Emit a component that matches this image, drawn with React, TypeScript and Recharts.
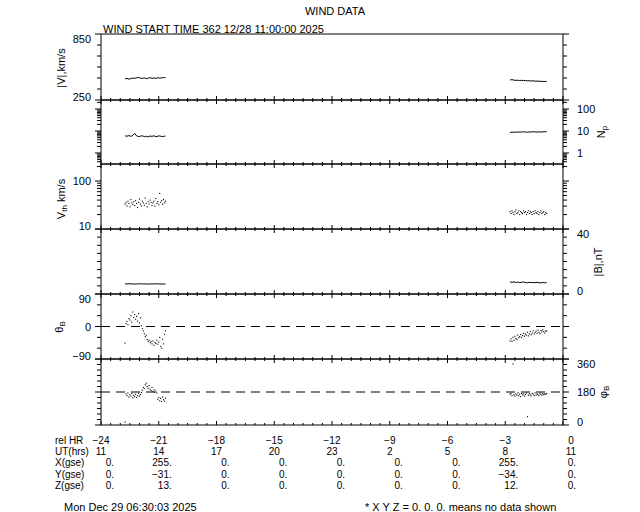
import React from "react"
import { ComposedChart, Line, XAxis, YAxis, ReferenceLine } from "recharts"

// sample times (hours relative to end of plot)
const leftHours = [-22.75, -22.65, -22.55, -22.45, -22.35, -22.25, -22.15, -22.05, -21.95, -21.85, -21.75, -21.65, -21.55, -21.45, -21.35, -21.25, -21.15, -21.05, -20.95, -20.85, -20.75, -20.65]
const rightHours = [-2.75, -2.65, -2.55, -2.45, -2.35, -2.25, -2.15, -2.05, -1.95, -1.85, -1.75, -1.65, -1.55, -1.45, -1.35, -1.25, -1.15, -1.05, -0.95, -0.85]
const leftFine = [-22.75, -22.7, -22.65, -22.6, -22.55, -22.5, -22.45, -22.4, -22.35, -22.3, -22.25, -22.2, -22.15, -22.1, -22.05, -22.0, -21.95, -21.9, -21.85, -21.8, -21.75, -21.7, -21.65, -21.6, -21.55, -21.5, -21.45, -21.4, -21.35, -21.3, -21.25, -21.2, -21.15, -21.1, -21.05, -21.0, -20.95, -20.9, -20.85, -20.8, -20.75, -20.7, -20.65]
const rightFine = [-2.75, -2.7, -2.65, -2.6, -2.55, -2.5, -2.45, -2.4, -2.35, -2.3, -2.25, -2.2, -2.15, -2.1, -2.05, -2.0, -1.95, -1.9, -1.85, -1.8, -1.75, -1.7, -1.65, -1.6, -1.55, -1.5, -1.45, -1.4, -1.35, -1.3, -1.25, -1.2, -1.15, -1.1, -1.05, -1.0, -0.95, -0.9, -0.85]

// |V| km/s
const speedLeft = [442, 446, 440, 444, 450, 447, 452, 455, 449, 446, 451, 444, 448, 453, 447, 450, 446, 452, 449, 451, 455, 452]
const speedRight = [432, 435, 431, 428, 430, 427, 429, 426, 428, 424, 425, 423, 425, 421, 422, 420, 421, 418, 419, 417]
// Np
const densityLeft = [6.0, 5.8, 6.2, 5.7, 6.3, 7.8, 6.0, 5.6, 5.8, 6.1, 5.5, 5.8, 5.4, 5.9, 5.7, 6.1, 5.5, 5.8, 6.0, 5.6, 5.7, 5.9]
const densityRight = [8.6, 8.9, 8.7, 9.0, 8.8, 9.1, 8.9, 9.2, 9.0, 8.8, 9.1, 9.0, 9.3, 9.1, 8.9, 9.2, 9.0, 9.1, 9.3, 9.2]
// Vth km/s
const vthLeft = [33, 36, 30, 38, 34, 29, 41, 35, 32, 37, 31, 39, 34, 28, 36, 42, 33, 30, 38, 35, 31, 44, 34, 29, 37, 33, 40, 36, 31, 35, 38, 30, 43, 34, 37, 32, 55, 36, 39, 33, 41, 35, 38]
const vthRight = [23, 21, 24, 22, 20, 23, 25, 21, 22, 24, 20, 23, 22, 21, 24, 22, 23, 20, 22, 24, 21, 23, 22, 20, 23, 21, 24, 22, 21, 23, 20, 22, 24, 21, 22, 23, 20, 22, 21]
// |B| nT
const bLeft = [6.2, 6.2, 6.3, 6.2, 6.2, 6.1, 6.2, 6.2, 6.3, 6.2, 6.2, 6.2, 6.1, 6.2, 6.2, 6.2, 6.3, 6.2, 6.2, 6.2, 6.1, 6.2]
const bRight = [7.4, 7.2, 7.5, 7.1, 7.3, 7.0, 7.2, 7.4, 7.1, 6.9, 7.2, 7.0, 7.1, 6.9, 7.2, 7.0, 6.8, 7.1, 6.9, 7.0]
// theta B
const thetaLeft = [-46, 8, 14, 5, 22, 18, 30, 12, 40, 25, 33, 20, 28, 15, 36, 10, 24, 2, -6, -12, -20, -28, -24, -36, -41, -38, -45, -42, -48, -40, -52, -44, -47, -38, -49, -43, -30, -55, -60, -35, -48, -22, -12]
const thetaRight = [-40, -34, -41, -30, -38, -27, -33, -36, -24, -31, -28, -22, -30, -25, -19, -27, -21, -24, -16, -26, -20, -14, -23, -18, -12, -21, -17, -13, -19, -10, -16, -20, -11, -15, -9, -14, -18, -12, -13]
// phi B
const phiLeft = [16, 170, 160, 175, 152, 165, 158, 172, 148, 162, 155, 168, 150, 160, 173, 158, 166, 178, 190, 205, 198, 220, 228, 210, 200, 215, 195, 188, 205, 182, 192, 178, 186, 175, 140, 150, 132, 145, 128, 152, 138, 130, 146]
const phiRight = [168, 172, 160, 333, 165, 158, 170, 163, 175, 160, 168, 155, 172, 164, 170, 158, 166, 174, 45, 162, 170, 165, 158, 172, 168, 160, 175, 163, 170, 166, 160, 173, 168, 162, 171, 165, 170, 167, 172]

// bottom table
const relHr = [-24, -21, -18, -15, -12, -9, -6, -3, 0]
const utHours = ["11", "14", "17", "20", "23", "2", "5", "8", "11"]
const xGse = ["0.", "255.", "0.", "0.", "0.", "0.", "0.", "255.", "0."]
const yGse = ["0.", "−31.", "0.", "0.", "0.", "0.", "0.", "−34.", "0."]
const zGse = ["0.", "13.", "0.", "0.", "0.", "0.", "0.", "12.", "0."]

const FONT = "'Liberation Sans', Arial, sans-serif"
const PAD = 6
const PLOT_L = 101
const PLOT_R = 563
const HOUR_PX = (PLOT_R - PLOT_L) / 24
const halfHourTicks = Array.from({ length: 49 }, (_, i) => -24 + i * 0.5)
const logTicks = (lo: number, hi: number) => {
  const out: number[] = []
  for (let d = 0.1; d <= 1000; d *= 10) for (let m = 1; m < 10; m++) {
    const v = +(m * d).toPrecision(3)
    if (v >= lo && v <= hi) out.push(v)
  }
  return out
}
const step = (lo: number, hi: number, s: number) => Array.from({ length: Math.round((hi - lo) / s) + 1 }, (_, i) => lo + i * s)

function rows(lh: number[], lv: number[], rh: number[], rv: number[]) {
  return [...lh.map((t, i) => ({ t, v: lv[i] })), { t: -12, v: null }, ...rh.map((t, i) => ({ t, v: rv[i] }))]
}

const fmt = (v: number) => (v < 0 ? "−" + Math.abs(v) : String(v))
const near = (a: number, list: number[]) => list.some((l) => Math.abs(l - a) < 1e-6)

function yTick(labels: number[], anchor: "start" | "end", h: number) {
  return (props: any) => {
    const { x, y, payload } = props
    const v = payload.value
    if (!near(v, labels)) return <g />
    const yy = Math.min(Math.max(y, PAD + 5), PAD + h - 3)
    return (
      <text x={x} y={yy} textAnchor={anchor} dominantBaseline="central" fontSize={11} fontFamily={FONT} fill="#000">
        {fmt(v)}
      </text>
    )
  }
}

const pixelDot = (p: any) => {
  const k = `d${p.index}`
  if (p.payload == null || p.payload.v == null || p.cy == null) return <g key={k} />
  return <rect key={k} x={p.cx - 0.55} y={p.cy - 0.55} width={1.1} height={1.1} fill="#000" />
}

interface PanelProps {
  top: number
  h: number
  data: any[]
  domain: [number, number]
  scale?: "linear" | "log"
  yTicks: number[]
  majorY: number[]
  leftLabels?: number[]
  rightLabels?: number[]
  mode?: "line" | "dots"
  refY?: number
  topTicks?: boolean
}

function Panel({ top, h, data, domain, scale = "linear", yTicks, majorY, leftLabels = [], rightLabels = [], mode = "line", refY, topTicks = true }: PanelProps) {
  const H = PAD + h + PAD
  const [d0, d1] = domain
  // value that sits px pixels above the bottom of this panel
  const yAt = (px: number) =>
    scale === "log"
      ? Math.pow(10, Math.log10(d0) + (px / h) * (Math.log10(d1) - Math.log10(d0)))
      : d0 + (px / h) * (d1 - d0)
  const ticks: React.ReactNode[] = []
  halfHourTicks.forEach((t, i) => {
    const len = near(t, relHr) ? 4 : 2
    ticks.push(<ReferenceLine key={`b${i}`} xAxisId="main" yAxisId="L" segment={[{ x: t, y: d0 }, { x: t, y: yAt(len) }]} stroke="#000" />)
    if (topTicks)
      ticks.push(<ReferenceLine key={`t${i}`} xAxisId="main" yAxisId="L" segment={[{ x: t, y: d1 }, { x: t, y: yAt(h - len) }]} stroke="#000" />)
  })
  yTicks.forEach((v, i) => {
    const len = (near(v, majorY) ? 6 : 4) / HOUR_PX
    ticks.push(<ReferenceLine key={`l${i}`} xAxisId="main" yAxisId="L" ifOverflow="visible" segment={[{ x: -24 - len, y: v }, { x: -24, y: v }]} stroke="#000" />)
    ticks.push(<ReferenceLine key={`r${i}`} xAxisId="main" yAxisId="L" ifOverflow="visible" segment={[{ x: 0, y: v }, { x: len, y: v }]} stroke="#000" />)
  })
  const yCommon = { type: "number" as const, domain, scale, allowDataOverflow: true, ticks: yTicks, interval: 0 as const, width: 40, tickSize: 6, tickLine: false, axisLine: false }
  return (
    <div style={{ position: "absolute", left: 0, top: top - PAD }}>
      <ComposedChart width={640} height={H} data={data} margin={{ top: PAD, bottom: PAD, left: PLOT_L - 40, right: 640 - PLOT_R - 40 }}>
        <XAxis xAxisId="main" dataKey="t" type="number" domain={[-24, 0]} allowDataOverflow hide />
        <YAxis yAxisId="L" orientation="left" tickMargin={4} tick={yTick(leftLabels, "end", h)} {...yCommon} />
        <YAxis yAxisId="R" orientation="right" tickMargin={8} tick={yTick(rightLabels, "start", h)} {...yCommon} />
        <ReferenceLine xAxisId="main" yAxisId="L" x={-24} stroke="#000" />
        <ReferenceLine xAxisId="main" yAxisId="L" x={0} stroke="#000" />
        <ReferenceLine xAxisId="main" yAxisId="L" y={d0} stroke="#000" />
        <ReferenceLine xAxisId="main" yAxisId="L" y={d1} stroke="#000" />
        {ticks}
        {refY !== undefined && (
          <ReferenceLine xAxisId="main" yAxisId="L" y={refY} stroke="#000" strokeDasharray="9 6" />
        )}
        {mode === "line" ? (
          <Line xAxisId="main" yAxisId="L" dataKey="v" stroke="#000" strokeWidth={1} dot={false} isAnimationActive={false} />
        ) : (
          <Line xAxisId="main" yAxisId="L" dataKey="v" stroke="none" dot={pixelDot} activeDot={false} isAnimationActive={false} />
        )}
      </ComposedChart>
    </div>
  )
}

const txt = { fontSize: 11, fontFamily: FONT, fill: "#000" }
const tbl = { fontSize: 10, fontFamily: FONT, fill: "#000" }
const rowY = [444, 455.2, 466.4, 477.6, 488.8]
const hourX = (h: number) => PLOT_L + (h + 24) * HOUR_PX

export default function App() {
  return (
    <div style={{ position: "absolute", left: 0, top: 0, width: 640, height: 512, background: "#fff", overflow: "hidden" }}>
      <Panel top={34} h={66} data={rows(leftHours, speedLeft, rightHours, speedRight)} domain={[250, 850]}
        yTicks={step(250, 850, 100)} majorY={[250, 850]} leftLabels={[250, 850]} topTicks={false} />
      <Panel top={100} h={64} data={rows(leftHours, densityLeft, rightHours, densityRight)} domain={[0.316, 257]} scale="log"
        yTicks={logTicks(0.316, 257)} majorY={[1, 10, 100]} rightLabels={[1, 10, 100]} />
      <Panel top={164} h={65} data={rows(leftFine, vthLeft, rightFine, vthRight)} domain={[10, 226]} scale="log"
        yTicks={logTicks(10, 226)} majorY={[10, 100]} leftLabels={[10, 100]} mode="dots" />
      <Panel top={229} h={65} data={rows(leftHours, bLeft, rightHours, bRight)} domain={[0, 40]}
        yTicks={step(0, 40, 5)} majorY={[0, 40]} rightLabels={[0, 40]} />
      <Panel top={294} h={65} data={rows(leftFine, thetaLeft, rightFine, thetaRight)} domain={[-90, 90]}
        yTicks={step(-90, 90, 30)} majorY={[-90, 0, 90]} leftLabels={[-90, 0, 90]} mode="dots" refY={0} />
      <Panel top={359} h={66} data={rows(leftFine, phiLeft, rightFine, phiRight)} domain={[0, 360]}
        yTicks={step(0, 360, 30)} majorY={[0, 180, 360]} rightLabels={[0, 180, 360]} mode="dots" refY={180} />

      <svg width={640} height={512} style={{ position: "absolute", left: 0, top: 0, pointerEvents: "none" }}>
        <text x={335} y={15} textAnchor="middle" {...txt}>WIND DATA</text>
        <text x={103} y={33} {...txt}>WIND START TIME 362 12/28 11:00:00 2025</text>

        <text transform="translate(61,68) rotate(-90)" textAnchor="middle" dominantBaseline="central" {...txt}>|V|,km/s</text>
        <text transform="translate(601,132) rotate(-90)" textAnchor="middle" dominantBaseline="central" {...txt}>
          N<tspan fontSize={8} dy={3}>p</tspan>
        </text>
        <text transform="translate(61,199) rotate(-90)" textAnchor="middle" dominantBaseline="central" {...txt}>
          V<tspan fontSize={8} dy={3}>th</tspan><tspan dy={-3}> km/s</tspan>
        </text>
        <text transform="translate(598,262) rotate(-90)" textAnchor="middle" dominantBaseline="central" {...txt}>|B|,nT</text>
        <text transform="translate(59,327) rotate(-90)" textAnchor="middle" dominantBaseline="central" {...txt}>
          θ<tspan fontSize={8} dy={3}>B</tspan>
        </text>
        <text transform="translate(603,392) rotate(-90)" textAnchor="middle" dominantBaseline="central" {...txt}>
          φ<tspan fontSize={8} dy={3}>B</tspan>
        </text>

        {["rel HR", "UT(hrs)", "X(gse)", "Y(gse)", "Z(gse)"].map((label, r) => (
          <text key={label} x={55} y={rowY[r]} {...tbl}>{label}</text>
        ))}
        {relHr.map((hr, i) => {
          const x = hourX(hr)
          const dx = i === relHr.length - 1 ? 8 : 0
          return (
            <g key={hr}>
              <text x={x + dx} y={rowY[0]} textAnchor="middle" {...tbl}>{fmt(hr)}</text>
              <text x={x + dx} y={rowY[1]} textAnchor="middle" {...tbl}>{utHours[i]}</text>
              <text x={x + 13} y={rowY[2]} textAnchor="end" {...tbl}>{xGse[i]}</text>
              <text x={x + 13} y={rowY[3]} textAnchor="end" {...tbl}>{yGse[i]}</text>
              <text x={x + 13} y={rowY[4]} textAnchor="end" {...tbl}>{zGse[i]}</text>
            </g>
          )
        })}

        <text x={64} y={511} {...txt}>Mon Dec 29 06:30:03 2025</text>
        <text x={365} y={511} {...txt}>* X Y Z = 0. 0. 0. means no data shown</text>
      </svg>
    </div>
  )
}
